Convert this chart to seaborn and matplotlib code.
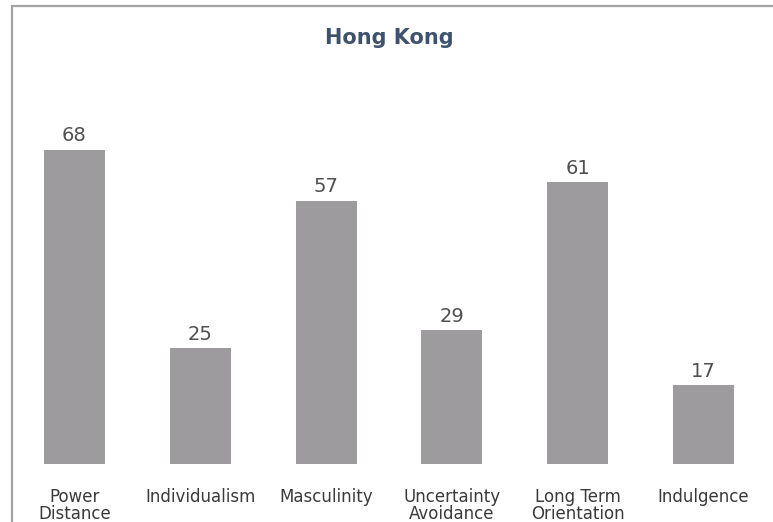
import matplotlib
matplotlib.use("Agg")
import matplotlib.pyplot as plt
from matplotlib.lines import Line2D
import seaborn as sns
import pandas as pd

# Hofstede cultural dimension scores
categories = ["Power\nDistance", "Individualism", "Masculinity",
              "Uncertainty\nAvoidance", "Long Term\nOrientation", "Indulgence"]
scores = [68, 25, 57, 29, 61, 17]
title = "Hong Kong"

W, H = 773, 522
sns.set_theme(style="white")
plt.rcParams["font.family"] = ["DejaVu Sans"]

fig = plt.figure(figsize=(W / 100, H / 100), dpi=100)
ax = fig.add_axes([11.6 / W, 58 / H, 754.8 / W, 439 / H])

df = pd.DataFrame({"dimension": categories, "score": scores})
sns.barplot(data=df, x="dimension", y="score", color="#9d9b9e",
            saturation=1, width=0.485, linewidth=0, ax=ax)

ax.set_ylim(0, 95)
ax.set_xlim(-0.5, len(categories) - 0.5)
ax.set_xlabel("")
ax.set_ylabel("")
ax.set_yticks([])
for s in ax.spines.values():
    s.set_visible(False)
ax.tick_params(axis="x", length=0, pad=17, labelsize=12, labelcolor="#3a3a3a")
for lbl in ax.get_xticklabels():
    lbl.set_linespacing(0.95)
    lbl.set_verticalalignment("top")

# value labels above bars
for i, v in enumerate(scores):
    ax.annotate(str(v), xy=(i, v), xytext=(0, 6), textcoords="offset points",
                ha="center", va="baseline", fontsize=14, color="#4f4f4f")

# chart title
fig.text(389 / W, 1 - 38 / H, title, ha="center", va="center",
         fontsize=15, fontweight="bold", color="#3e5270")

# frame around the chart area (left and top edges)
fx = 11.5 / W
fy = 1 - 6 / H
fig.add_artist(Line2D([fx, fx, 1.0], [0.0, fy, fy], transform=fig.transFigure,
                      color="#a3a3a3", linewidth=1.6, solid_joinstyle="miter"))

fig.savefig("out.png", dpi=100)
